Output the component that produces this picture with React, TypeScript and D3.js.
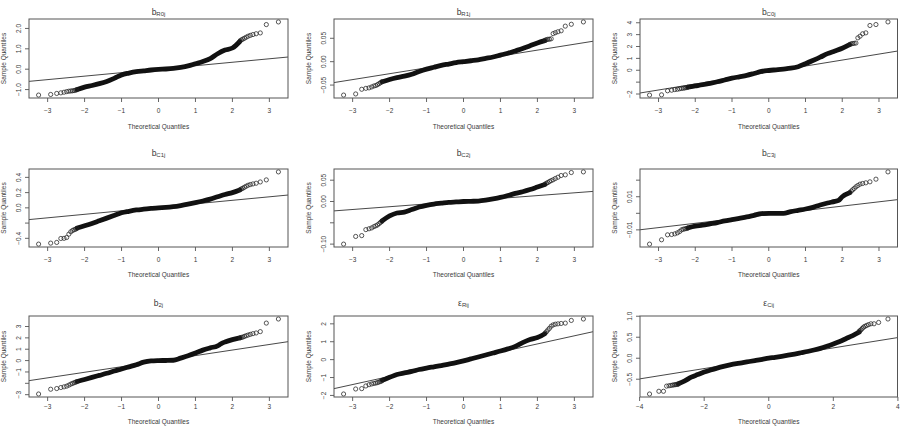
import React from "react";
import * as d3 from "d3";

// ---------- data ----------
const titleBases = ["b", "b", "b", "b", "b", "b", "b", "ε", "ε"];
const titleSubs = ["R0j", "R1j", "C0j", "C1j", "C2j", "C3j", "2j", "Rij", "Cij"];

// number of observations per panel (sets the theoretical quantiles of the ranks)
const sampleSizes = [850, 850, 850, 850, 850, 850, 850, 850, 4500];

// lowest sample values (ranks 1, 2, ...)
const lowTails: number[][] = [
  [-1.27, -1.24, -1.19, -1.16, -1.13, -1.1, -1.08, -1.07, -1.06, -1.05, -1.03, -1.01],
  [-0.0714, -0.069, -0.059, -0.057, -0.056, -0.054, -0.052, -0.051, -0.049, -0.047, -0.045, -0.043],
  [-2.09, -2.07, -1.73, -1.68, -1.63, -1.6, -1.56, -1.53, -1.51, -1.49, -1.46, -1.44],
  [-0.476, -0.463, -0.454, -0.402, -0.4, -0.389, -0.345, -0.314, -0.297, -0.288, -0.28, -0.272],
  [-0.1, -0.082, -0.08, -0.066, -0.064, -0.062, -0.059, -0.057, -0.055, -0.052, -0.049, -0.047],
  [-0.0186, -0.016, -0.013, -0.0128, -0.0124, -0.0118, -0.011, -0.01, -0.0096, -0.0094, -0.0092, -0.009],
  [-2.94, -2.52, -2.46, -2.37, -2.31, -2.25, -2.16, -2.07, -2.01, -1.95, -1.9, -1.86],
  [-1.92, -1.64, -1.62, -1.47, -1.4, -1.36, -1.33, -1.31, -1.28, -1.25, -1.22, -1.19],
  [-0.852, -0.787, -0.787, -0.664, -0.656, -0.648, -0.64, -0.635, -0.63, -0.624, -0.62, -0.615],
];

// highest sample values (ascending, last one is rank n)
const highTails: number[][] = [
  [1.4, 1.44, 1.48, 1.52, 1.57, 1.62, 1.66, 1.7, 1.74, 1.78, 2.19, 2.32],
  [0.046, 0.047, 0.048, 0.048, 0.049, 0.06, 0.062, 0.064, 0.066, 0.076, 0.08, 0.085],
  [2.18, 2.23, 2.25, 2.27, 2.29, 2.73, 2.87, 3.07, 3.15, 3.77, 3.85, 4.07],
  [0.24, 0.249, 0.258, 0.271, 0.284, 0.297, 0.306, 0.314, 0.323, 0.34, 0.367, 0.472],
  [0.041, 0.043, 0.0445, 0.047, 0.049, 0.051, 0.054, 0.057, 0.061, 0.0625, 0.068, 0.0695],
  [0.0126, 0.0134, 0.0142, 0.015, 0.016, 0.0168, 0.0176, 0.018, 0.0184, 0.019, 0.0206, 0.025],
  [2.01, 2.04, 2.07, 2.13, 2.19, 2.25, 2.31, 2.37, 2.43, 2.55, 3.3, 3.66],
  [1.49, 1.56, 1.66, 1.75, 1.87, 1.94, 1.98, 2.0, 2.02, 2.04, 2.19, 2.27],
  [0.64, 0.66, 0.68, 0.71, 0.74, 0.76, 0.78, 0.8, 0.82, 0.82, 0.852, 0.934],
];

// dense middle of each sample: [theoretical quantile, sample quantile]
const bodies: [number, number][][] = [
  [[-2.2, -1.0], [-2.0, -0.88], [-1.8, -0.8], [-1.6, -0.71], [-1.4, -0.6], [-1.2, -0.45], [-1.0, -0.28], [-0.8, -0.19], [-0.6, -0.12], [-0.4, -0.08], [-0.2, -0.04], [0, -0.01], [0.2, 0.01], [0.4, 0.04], [0.6, 0.09], [0.8, 0.16], [1.0, 0.27], [1.2, 0.38], [1.4, 0.52], [1.6, 0.76], [1.8, 0.94], [2.0, 1.04], [2.2, 1.36]],
  [[-2.2, -0.043], [-2.0, -0.038], [-1.8, -0.034], [-1.6, -0.031], [-1.4, -0.027], [-1.2, -0.021], [-1.0, -0.016], [-0.8, -0.012], [-0.6, -0.008], [-0.4, -0.005], [-0.2, -0.002], [0, 0.0], [0.2, 0.002], [0.4, 0.004], [0.6, 0.007], [0.8, 0.01], [1.0, 0.014], [1.2, 0.018], [1.4, 0.023], [1.6, 0.028], [1.8, 0.034], [2.0, 0.04], [2.2, 0.045]],
  [[-2.2, -1.42], [-2.0, -1.32], [-1.8, -1.22], [-1.6, -1.1], [-1.4, -0.97], [-1.2, -0.82], [-1.0, -0.67], [-0.8, -0.55], [-0.6, -0.43], [-0.4, -0.27], [-0.2, -0.1], [0, -0.02], [0.2, 0.04], [0.4, 0.1], [0.6, 0.17], [0.8, 0.3], [1.0, 0.55], [1.2, 0.82], [1.4, 1.1], [1.6, 1.4], [1.8, 1.62], [2.0, 1.85], [2.2, 2.15]],
  [[-2.2, -0.265], [-2.0, -0.236], [-1.8, -0.205], [-1.6, -0.17], [-1.4, -0.135], [-1.2, -0.1], [-1.0, -0.065], [-0.8, -0.045], [-0.6, -0.028], [-0.4, -0.017], [-0.2, -0.008], [0, 0.0], [0.2, 0.005], [0.4, 0.015], [0.6, 0.03], [0.8, 0.048], [1.0, 0.068], [1.2, 0.09], [1.4, 0.115], [1.6, 0.145], [1.8, 0.175], [2.0, 0.2], [2.2, 0.235]],
  [[-2.2, -0.045], [-2.0, -0.034], [-1.8, -0.027], [-1.6, -0.025], [-1.4, -0.019], [-1.2, -0.013], [-1.0, -0.009], [-0.8, -0.006], [-0.6, -0.004], [-0.4, -0.002], [-0.2, -0.001], [0, 0.0], [0.2, 0.0005], [0.4, 0.001], [0.6, 0.003], [0.8, 0.006], [1.0, 0.0095], [1.2, 0.014], [1.4, 0.019], [1.6, 0.023], [1.8, 0.028], [2.0, 0.034], [2.2, 0.04]],
  [[-2.2, -0.0088], [-2.0, -0.0078], [-1.8, -0.0072], [-1.6, -0.0064], [-1.4, -0.0056], [-1.2, -0.0046], [-1.0, -0.0038], [-0.8, -0.003], [-0.6, -0.0022], [-0.4, -0.0012], [-0.2, -0.0002], [0, 0.0], [0.2, 0.0], [0.4, 0.0], [0.6, 0.001], [0.8, 0.0018], [1.0, 0.0026], [1.2, 0.0036], [1.4, 0.005], [1.6, 0.0062], [1.8, 0.0072], [1.9, 0.0078], [2.0, 0.01], [2.2, 0.0124]],
  [[-2.2, -1.84], [-2.0, -1.66], [-1.8, -1.48], [-1.6, -1.3], [-1.4, -1.12], [-1.2, -0.92], [-1.0, -0.74], [-0.8, -0.55], [-0.6, -0.36], [-0.4, -0.14], [-0.2, -0.03], [0, 0.0], [0.2, 0.01], [0.4, 0.03], [0.6, 0.22], [0.8, 0.42], [1.0, 0.66], [1.2, 0.92], [1.4, 1.12], [1.6, 1.3], [1.7, 1.5], [1.8, 1.64], [2.0, 1.85], [2.2, 2.0]],
  [[-2.2, -1.15], [-2.0, -0.99], [-1.8, -0.83], [-1.6, -0.74], [-1.4, -0.66], [-1.2, -0.55], [-1.0, -0.47], [-0.8, -0.4], [-0.6, -0.33], [-0.4, -0.25], [-0.2, -0.17], [0, -0.07], [0.2, 0.04], [0.4, 0.15], [0.6, 0.26], [0.8, 0.37], [1.0, 0.48], [1.2, 0.6], [1.4, 0.74], [1.6, 0.95], [1.8, 1.12], [2.0, 1.24], [2.1, 1.33], [2.2, 1.45]],
  [[-2.8, -0.61], [-2.6, -0.54], [-2.4, -0.45], [-2.2, -0.39], [-2.0, -0.33], [-1.8, -0.28], [-1.6, -0.235], [-1.4, -0.195], [-1.2, -0.16], [-1.0, -0.13], [-0.8, -0.105], [-0.6, -0.078], [-0.4, -0.052], [-0.2, -0.026], [0, 0.0], [0.2, 0.022], [0.4, 0.046], [0.6, 0.072], [0.8, 0.1], [1.0, 0.13], [1.2, 0.16], [1.4, 0.195], [1.6, 0.235], [1.8, 0.285], [2.0, 0.34], [2.2, 0.4], [2.4, 0.47], [2.6, 0.54], [2.8, 0.62]],
];

// sample quartiles [Q1, Q3] used by the reference line (qqline)
const quartiles: [number, number][] = [
  [-0.115, 0.115],
  [-0.009, 0.008],
  [-0.49, 0.19],
  [-0.024, 0.038],
  [-0.0036, 0.0052],
  [-0.0026, 0.0009],
  [-0.38, 0.28],
  [-0.336, 0.276],
  [-0.083, 0.083],
];

const yTickValues: number[][] = [
  [-1, 0, 1, 2],
  [-0.05, 0, 0.05],
  [-2, -1, 0, 1, 2, 3, 4],
  [-0.4, -0.2, 0, 0.2, 0.4],
  [-0.1, -0.05, 0, 0.05],
  [-0.01, 0, 0.01, 0.02],
  [-3, -2, -1, 0, 1, 2, 3],
  [-2, -1, 0, 1, 2],
  [-0.5, 0, 0.5, 1.0],
];
const yTickLabels: string[][] = [
  ["-1.0", "0.0", "1.0", "2.0"],
  ["-0.05", "0.00", "0.05"],
  ["-2", "", "0", "1", "2", "3", "4"],
  ["-0.4", "", "0.0", "0.2", "0.4"],
  ["-0.10", "", "0.00", "0.05"],
  ["-0.01", "", "0.01", ""],
  ["-3", "", "-1", "0", "1", "2", "3"],
  ["-2", "-1", "0", "1", "2"],
  ["-0.5", "0.0", "0.5", "1.0"],
];
const xTickValues: number[][] = [
  [-3, -2, -1, 0, 1, 2, 3],
  [-3, -2, -1, 0, 1, 2, 3],
  [-3, -2, -1, 0, 1, 2, 3],
  [-3, -2, -1, 0, 1, 2, 3],
  [-3, -2, -1, 0, 1, 2, 3],
  [-3, -2, -1, 0, 1, 2, 3],
  [-3, -2, -1, 0, 1, 2, 3],
  [-3, -2, -1, 0, 1, 2, 3],
  [-4, -2, 0, 2, 4],
];

// ---------- layout ----------
const W = 900;
const H = 426;
const cols = [
  { l: 29, r: 288 },
  { l: 334, r: 593 },
  { l: 640, r: 897.5 },
];
const rows = [
  { t: 19, b: 98, title: 12, tick: 110, xlab: 126 },
  { t: 169, b: 247, title: 153, tick: 259, xlab: 274 },
  { t: 316, b: 397, title: 303, tick: 406, xlab: 421 },
];
const FONT = "'Liberation Sans', Arial, sans-serif";
const TEXT = "#3a3a3a";
const BOX = "#555";

// inverse of the standard normal CDF (Acklam)
function qnorm(p: number): number {
  const a = [-3.969683028665376e1, 2.209460984245205e2, -2.759285104469687e2, 1.38357751867269e2, -3.066479806614716e1, 2.506628277459239];
  const b = [-5.447609879822406e1, 1.615858368580409e2, -1.556989798598866e2, 6.680131188771972e1, -1.328068155288572e1];
  const c = [-7.784894002430293e-3, -3.223964580411365e-1, -2.400758277161838, -2.549732539343734, 4.374664141464968, 2.938163982698783];
  const d = [7.784695709041462e-3, 3.224671290700398e-1, 2.445134137142996, 3.754408661907416];
  const pl = 0.02425;
  if (p < pl) {
    const q = Math.sqrt(-2 * Math.log(p));
    return (((((c[0] * q + c[1]) * q + c[2]) * q + c[3]) * q + c[4]) * q + c[5]) / ((((d[0] * q + d[1]) * q + d[2]) * q + d[3]) * q + 1);
  }
  if (p > 1 - pl) {
    const q = Math.sqrt(-2 * Math.log(1 - p));
    return -(((((c[0] * q + c[1]) * q + c[2]) * q + c[3]) * q + c[4]) * q + c[5]) / ((((d[0] * q + d[1]) * q + d[2]) * q + d[3]) * q + 1);
  }
  const q = p - 0.5;
  const r = q * q;
  return ((((((a[0] * r + a[1]) * r + a[2]) * r + a[3]) * r + a[4]) * r + a[5]) * q) / (((((b[0] * r + b[1]) * r + b[2]) * r + b[3]) * r + b[4]) * r + 1);
}

function Panel({ i }: { i: number }) {
  const col = cols[i % 3];
  const row = rows[Math.floor(i / 3)];
  const n = sampleSizes[i];
  const low = lowTails[i];
  const high = highTails[i];
  const body = bodies[i];

  const lowPts = low.map((v, k) => [qnorm((k + 0.5) / n), v] as [number, number]);
  const highPts = high.map((v, k) => [qnorm((n - high.length + k + 0.5) / n), v] as [number, number]);

  const xMax = -qnorm(0.5 / n);
  const xPad = 0.04 * 2 * xMax;
  const x = d3.scaleLinear().domain([-xMax - xPad, xMax + xPad]).range([col.l, col.r]);
  const ys = [...low, ...high, ...body.map((d) => d[1])];
  const [yMin, yMax] = d3.extent(ys) as [number, number];
  const yPad = 0.04 * (yMax - yMin);
  const y = d3.scaleLinear().domain([yMin - yPad, yMax + yPad]).range([row.b, row.t]);

  const z = qnorm(0.75);
  const [q1, q3] = quartiles[i];
  const slope = (q3 - q1) / (2 * z);
  const intercept = q1 + slope * z;
  const [dx0, dx1] = x.domain();

  const band = d3
    .line<[number, number]>()
    .x((d) => x(d[0]))
    .y((d) => y(d[1]))
    .curve(d3.curveMonotoneX)(body) as string;

  const clipId = `clip${i}`;
  const cx = (col.l + col.r) / 2;
  const cy = (row.t + row.b) / 2;

  return (
    <g>
      <defs>
        <clipPath id={clipId}>
          <rect x={col.l} y={row.t} width={col.r - col.l} height={row.b - row.t} />
        </clipPath>
      </defs>
      {/* title */}
      <text x={cx} y={row.title} textAnchor="middle" dominantBaseline="central" fontFamily={FONT} fill={TEXT}>
        <tspan fontSize={8.5}>{titleBases[i]}</tspan>
        <tspan fontSize={6} dy={2.2}>{titleSubs[i]}</tspan>
      </text>
      {/* points and band */}
      <g clipPath={`url(#${clipId})`}>
        <line
          x1={x(dx0)}
          y1={y(intercept + slope * dx0)}
          x2={x(dx1)}
          y2={y(intercept + slope * dx1)}
          stroke="#333"
          strokeWidth={0.9}
        />
      </g>
      <path d={band} fill="none" stroke="#111" strokeWidth={4.8} strokeLinecap="round" strokeLinejoin="round" />
      {[...lowPts, ...highPts].map((d, k) => (
        <circle key={k} cx={x(d[0])} cy={y(d[1])} r={2.1} fill="none" stroke="#222" strokeWidth={0.75} />
      ))}
      {/* box */}
      <rect x={col.l} y={row.t} width={col.r - col.l} height={row.b - row.t} fill="none" stroke={BOX} strokeWidth={1} />
      {/* x axis */}
      {xTickValues[i].map((t) => (
        <g key={`x${t}`}>
          <line x1={x(t)} x2={x(t)} y1={row.b} y2={row.b + 4} stroke={BOX} strokeWidth={0.9} />
          <text x={x(t)} y={row.tick} textAnchor="middle" dominantBaseline="central" fontSize={6.5} fontFamily={FONT} fill={TEXT}>
            {t < 0 ? `\u2212${Math.abs(t)}` : `${t}`}
          </text>
        </g>
      ))}
      {/* y axis */}
      {yTickValues[i].map((t, k) => (
        <g key={`y${k}`}>
          <line x1={col.l - 4} x2={col.l} y1={y(t)} y2={y(t)} stroke={BOX} strokeWidth={0.9} />
          {yTickLabels[i][k] !== "" && (
            <text
              transform={`translate(${col.l - 10.5},${y(t)}) rotate(-90)`}
              textAnchor="middle"
              dominantBaseline="central"
              fontSize={6.5}
              fontFamily={FONT}
              fill={TEXT}
            >
              {yTickLabels[i][k].replace("-", "\u2212")}
            </text>
          )}
        </g>
      ))}
      {/* axis titles */}
      <text x={cx} y={row.xlab} textAnchor="middle" dominantBaseline="central" fontSize={6.5} fontFamily={FONT} fill={TEXT}>
        Theoretical Quantiles
      </text>
      <text
        transform={`translate(${col.l - 26},${cy}) rotate(-90)`}
        textAnchor="middle"
        dominantBaseline="central"
        fontSize={6.5}
        fontFamily={FONT}
        fill={TEXT}
      >
        Sample Quantiles
      </text>
    </g>
  );
}

export default function App() {
  return (
    <svg
      width={W}
      height={H}
      viewBox={`0 0 ${W} ${H}`}
      style={{ position: "fixed", left: 0, top: 0, background: "#fff" }}
    >
      <rect x={0} y={0} width={W} height={H} fill="#fff" />
      {d3.range(9).map((i) => (
        <Panel key={i} i={i} />
      ))}
    </svg>
  );
}
